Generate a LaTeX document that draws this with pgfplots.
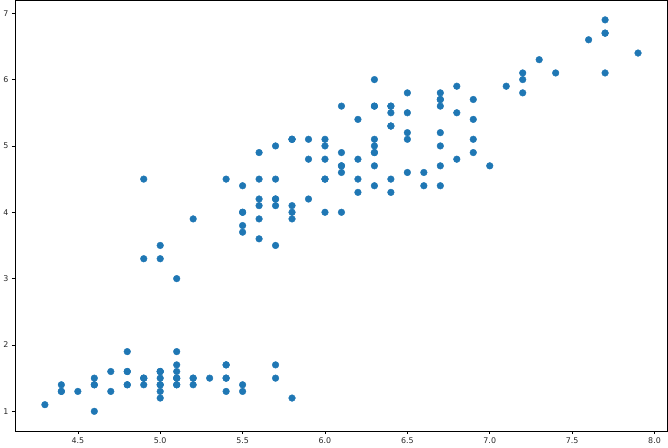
\documentclass[border=0pt]{standalone}
\usepackage{fontspec}
\setmainfont{DejaVu Sans}
\usepackage{pgfplots}
\pgfplotsset{compat=1.18}
\definecolor{mplblue}{HTML}{1F77B4}
\begin{document}
\begin{tikzpicture}
\begin{axis}[
  scale only axis,
  width=644pt, height=425pt,
  xmin=4.12, xmax=8.08, ymin=0.705, ymax=7.195,
  xtick={4.5,5.0,5.5,6.0,6.5,7.0,7.5,8.0},
  xticklabel style={/pgf/number format/.cd,fixed,fixed zerofill,precision=1},
  ytick={1,2,3,4,5,6,7},
  /pgf/number format/assume math mode=true,
  tick label style={font=\fontsize{7.8}{9}\selectfont, text=black!85},
  tick align=outside,
  tick style={black, line width=0.6pt},
  major tick length=3.2pt,
  axis line style={line width=0.6pt},
  xtick pos=bottom, ytick pos=left,
  clip=false,
]
\addplot[only marks, mark=*, mark size=3.3pt, mplblue, mark options={draw=mplblue, fill=mplblue}] table {
x y
5.1 1.4
4.9 1.4
4.7 1.3
4.6 1.5
5.0 1.4
5.4 1.7
4.6 1.4
5.0 1.5
4.4 1.4
4.9 1.5
5.4 1.5
4.8 1.6
4.8 1.4
4.3 1.1
5.8 1.2
5.7 1.5
5.4 1.3
5.1 1.4
5.7 1.7
5.1 1.5
5.4 1.7
5.1 1.5
4.6 1.0
5.1 1.7
4.8 1.9
5.0 1.6
5.0 1.6
5.2 1.5
5.2 1.4
4.7 1.6
4.8 1.6
5.4 1.5
5.2 1.5
5.5 1.4
4.9 1.5
5.0 1.2
5.5 1.3
4.9 1.5
4.4 1.3
5.1 1.5
5.0 1.3
4.5 1.3
4.4 1.3
5.0 1.6
5.1 1.9
4.8 1.4
5.1 1.6
4.6 1.4
5.3 1.5
5.0 1.4
7.0 4.7
6.4 4.5
6.9 4.9
5.5 4.0
6.5 4.6
5.7 4.5
6.3 4.7
4.9 3.3
6.6 4.6
5.2 3.9
5.0 3.5
5.9 4.2
6.0 4.0
6.1 4.7
5.6 3.6
6.7 4.4
5.6 4.5
5.8 4.1
6.2 4.5
5.6 3.9
5.9 4.8
6.1 4.0
6.3 4.9
6.1 4.7
6.4 4.3
6.6 4.4
6.8 4.8
6.7 5.0
6.0 4.5
5.7 3.5
5.5 3.8
5.5 3.7
5.8 3.9
6.0 5.1
5.4 4.5
6.0 4.5
6.7 4.7
6.3 4.4
5.6 4.1
5.5 4.0
5.5 4.4
6.1 4.6
5.8 4.0
5.0 3.3
5.6 4.2
5.7 4.2
5.7 4.2
6.2 4.3
5.1 3.0
5.7 4.1
6.3 6.0
5.8 5.1
7.1 5.9
6.3 5.6
6.5 5.8
7.6 6.6
4.9 4.5
7.3 6.3
6.7 5.8
7.2 6.1
6.5 5.1
6.4 5.3
6.8 5.5
5.7 5.0
5.8 5.1
6.4 5.3
6.5 5.5
7.7 6.7
7.7 6.9
6.0 5.0
6.9 5.7
5.6 4.9
7.7 6.7
6.3 4.9
6.7 5.7
7.2 6.0
6.2 4.8
6.1 4.9
6.4 5.6
7.2 5.8
7.4 6.1
7.9 6.4
6.4 5.6
6.3 5.1
6.1 5.6
7.7 6.1
6.3 5.6
6.4 5.5
6.0 4.8
6.9 5.4
6.7 5.6
6.9 5.1
5.8 5.1
6.8 5.9
6.7 5.7
6.7 5.2
6.3 5.0
6.5 5.2
6.2 5.4
5.9 5.1
};
\end{axis}
\end{tikzpicture}
\end{document}
